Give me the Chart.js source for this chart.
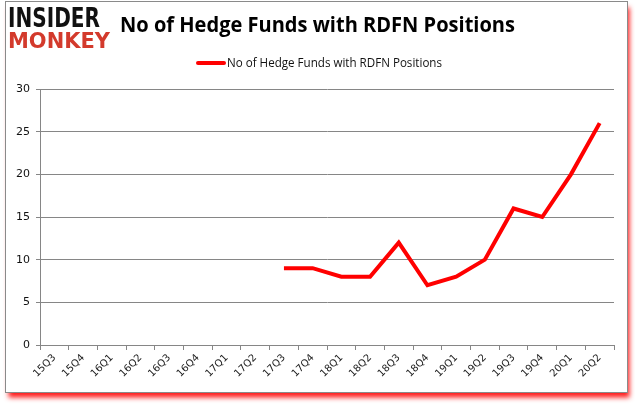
<!DOCTYPE html>
<html><head><meta charset="utf-8">
<script src="https://cdn.jsdelivr.net/npm/chart.js@4"></script>
<style>html,body{margin:0;padding:0;background:#fff}#wrap{width:635px;height:405px;position:relative}</style>
</head><body><div id="wrap"><canvas id="c" width="635" height="405"></canvas></div>
<script>
const categories = ["15Q3","15Q4","16Q1","16Q2","16Q3","16Q4","17Q1","17Q2","17Q3","17Q4","18Q1","18Q2","18Q3","18Q4","19Q1","19Q2","19Q3","19Q4","20Q1","20Q2"];
const fundCounts = [null,null,null,null,null,null,null,null,9,9,8,8,12,7,8,10,16,15,20,26];
const seriesName = "No of Hedge Funds with RDFN Positions";
const chartTitle = "No of Hedge Funds with RDFN Positions";
const yTicks = [0,5,10,15,20,25,30];

function fitText(ctx, text, x, baseline, width, capH, font, capRatio) {
  const size = capH / capRatio;
  ctx.font = 'bold ' + size + 'px ' + font;
  const w = ctx.measureText(text).width;
  ctx.save();
  ctx.translate(x, baseline);
  ctx.scale(width / w, 1);
  ctx.fillText(text, 0, 0);
  ctx.restore();
}

const decor = {
  id: 'decor',
  beforeDraw(chart) {
    const ctx = chart.ctx;
    ctx.save();
    ctx.fillStyle = '#fff';
    ctx.fillRect(0,0,635,405);
    ctx.shadowColor = 'rgba(255,0,0,0.9)';
    ctx.shadowBlur = 5;
    ctx.shadowOffsetX = 2;
    ctx.shadowOffsetY = 5;
    ctx.fillStyle = '#fff';
    ctx.fillRect(5.5,1.5,622,391);
    ctx.restore();
    ctx.save();
    ctx.strokeStyle = '#8a8a8a';
    ctx.lineWidth = 1;
    ctx.strokeRect(5.5,1.5,622,391);
    ctx.textBaseline = 'alphabetic';
    ctx.fillStyle = '#111';
    fitText(ctx, 'INSIDER', 8, 27, 92, 19, '"DejaVu Sans"', 0.73);
    ctx.fillStyle = '#d33a2c';
    fitText(ctx, 'MONKEY', 8, 48, 102, 16, '"DejaVu Sans"', 0.73);
    ctx.fillStyle = '#000';
    ctx.font = 'bold 21px "Open Sans"';
    {
      const w = ctx.measureText(chartTitle).width;
      ctx.save(); ctx.translate(120, 32); ctx.scale(395 / w, 1); ctx.fillText(chartTitle, 0, 0); ctx.restore();
    }
    ctx.strokeStyle = '#ff0000';
    ctx.lineWidth = 4;
    ctx.lineCap = 'round';
    ctx.beginPath(); ctx.moveTo(198,63); ctx.lineTo(224,63); ctx.stroke();
    ctx.fillStyle = '#111';
    ctx.font = '13px "Open Sans"';
    ctx.textBaseline = 'middle';
    {
      const w = ctx.measureText(seriesName).width;
      ctx.save(); ctx.translate(227, 63); ctx.scale(215 / w, 1); ctx.fillText(seriesName, 0, 0); ctx.restore();
    }
    ctx.restore();
  }
};

new Chart(document.getElementById('c'), {
  type: 'line',
  data: { labels: categories, datasets: [{
    label: seriesName, data: fundCounts, borderColor: '#ff0000', backgroundColor: '#ff0000',
    borderWidth: 4, pointRadius: 0, tension: 0, spanGaps: false, borderJoinStyle: 'miter'
  }]},
  options: {
    responsive: false, animation: false, devicePixelRatio: 1,
    layout: { padding: { left: 0, right: 21, top: 89, bottom: 0 } },
    plugins: { legend: { display: false }, title: { display: false }, tooltip: { enabled: false } },
    scales: {
      x: {
        offset: true,
        grid: { display: true, drawOnChartArea: false, offset: true, tickLength: 5, color: '#868686' },
        border: { display: true, color: '#868686' },
        ticks: { autoSkip: false, maxRotation: 45, minRotation: 45, color: '#222', font: { family: 'DejaVu Sans', size: 10 }, padding: 2 },
        afterFit(s) { s.height = 60; }
      },
      y: {
        min: 0, max: 30,
        afterBuildTicks(s) { s.ticks = yTicks.map(v => ({ value: v })); },
        grid: { color: '#868686', tickLength: 4 },
        border: { display: true, color: '#868686' },
        ticks: { color: '#111', font: { family: 'DejaVu Sans', size: 11 }, padding: 6 },
        afterFit(s) { s.width = 40; }
      }
    }
  },
  plugins: [decor]
});
</script></body></html>
